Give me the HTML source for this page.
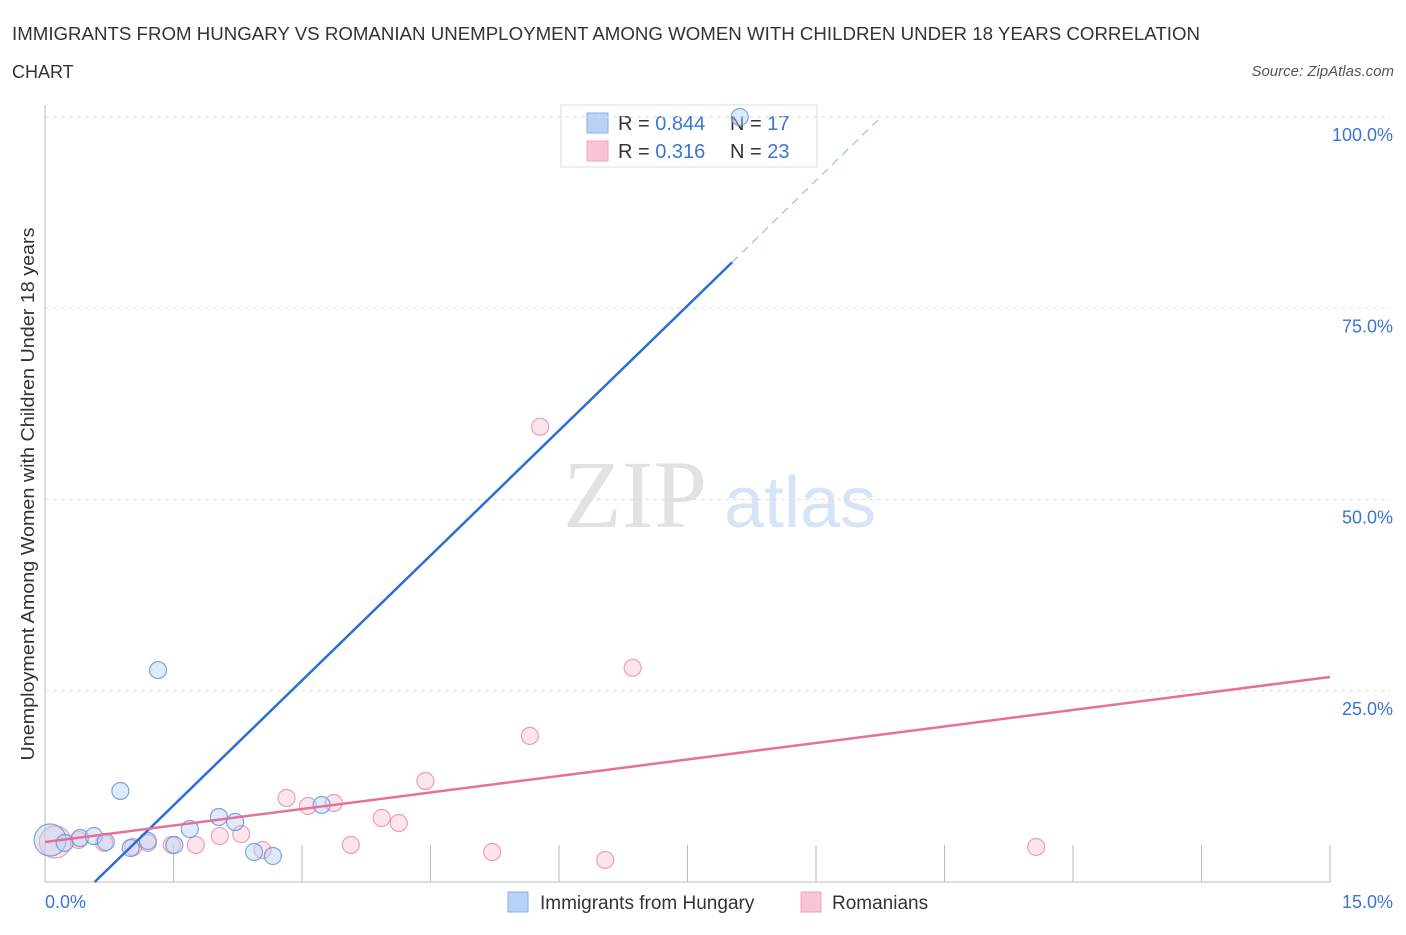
<!DOCTYPE html>
<html><head><meta charset="utf-8"><style>
body{margin:0;background:#fff;font-family:"Liberation Sans",sans-serif;}
</style></head><body>
<svg width="1406" height="930" xmlns="http://www.w3.org/2000/svg" id="svg">
<text x="12" y="40" font-size="18" fill="#333" textLength="1188" lengthAdjust="spacingAndGlyphs">IMMIGRANTS FROM HUNGARY VS ROMANIAN UNEMPLOYMENT AMONG WOMEN WITH CHILDREN UNDER 18 YEARS CORRELATION</text>
<text x="12" y="78" font-size="18" fill="#333">CHART</text>
<text x="1394" y="76" font-size="15" fill="#555" font-style="italic" text-anchor="end">Source: ZipAtlas.com</text>
<text x="635" y="527" font-size="96" fill="#e2e2e2" font-family="Liberation Serif" text-anchor="middle">ZIP</text>
<text x="800" y="527" font-size="72" fill="#d6e4f5" text-anchor="middle">atlas</text>
<text transform="translate(34,494) rotate(-90)" font-size="18" fill="#333" text-anchor="middle" textLength="533" lengthAdjust="spacingAndGlyphs">Unemployment Among Women with Children Under 18 years</text>
<g>
<rect x="561" y="105" width="256" height="62" fill="#fff" stroke="#ddd"/>
<rect x="587" y="113" width="21" height="20" fill="#b7d2f5" stroke="#8ab2e8"/>
<rect x="587" y="141" width="21" height="20" fill="#f9c5d5" stroke="#eea5bd"/>
<text x="618" y="130" font-size="20" fill="#333">R = <tspan fill="#3a76d0">0.844</tspan></text>
<text x="730" y="130" font-size="20" fill="#333">N = <tspan fill="#3a76d0"> 17</tspan></text>
<text x="618" y="158" font-size="20" fill="#333">R = <tspan fill="#3a76d0"> 0.316</tspan></text>
<text x="730" y="158" font-size="20" fill="#333">N = <tspan fill="#3a76d0">23</tspan></text>
</g>
<g id="grid"></g><g id="marks"></g>
<g>
<rect x="508" y="892" width="20" height="20" fill="#b7d2f5" stroke="#8ab2e8"/>
<text x="540" y="909" font-size="19" fill="#333">Immigrants from Hungary</text>
<rect x="801" y="892" width="20" height="20" fill="#f9c5d5" stroke="#eea5bd"/>
<text x="832" y="909" font-size="19" fill="#333">Romanians</text>
</g>
</svg>
<script>
const xTicks=[0,1.5,3,4.5,6,7.5,9,10.5,12,13.5,15];
const yTicks=[25,50,75,100];
const yTickLabels=["25.0%","50.0%","75.0%","100.0%"];
const hungaryX=[0.06,0.23,0.41,0.57,0.71,0.88,1.0,1.2,1.32,1.51,1.69,2.03,2.22,2.44,2.66,3.23,8.11];
const hungaryY=[5.49,5.1,5.75,6.01,5.23,11.9,4.44,5.36,27.7,4.84,6.93,8.5,7.84,3.92,3.4,10.07,100];
const romX=[0.12,0.39,0.69,1.03,1.2,1.48,1.76,2.04,2.29,2.54,2.82,3.07,3.37,3.57,3.93,4.13,4.44,5.22,5.66,5.78,6.54,6.86,11.57];
const romY=[5.23,5.49,5.1,4.58,5.1,4.84,4.84,6.01,6.27,4.18,10.98,9.93,10.33,4.84,8.37,7.71,13.2,3.92,19.1,59.5,2.88,28.0,4.58];
const hungaryLine=[0.58,0,8.02,81,9.76,100];
const romLine=[0,5.23,15,26.8];
const X=v=>45+v/15*1285, Y=v=>882-v/100*765;
const NS="http://www.w3.org/2000/svg";
function mk(p,t,a){const e=document.createElementNS(NS,t);for(const k in a)e.setAttribute(k,a[k]);p.appendChild(e);return e;}
const g=document.getElementById('grid'), m=document.getElementById('marks');
yTicks.forEach((t,i)=>{
 const l=mk(g,'line',{x1:45,x2:1390,y1:Y(t),y2:Y(t),stroke:'#ddd','stroke-dasharray':'4,4'});
 
 
 const tx=mk(g,'text',{x:1393,y:Y(t)+24,'font-size':18,fill:'#3a76d0','text-anchor':'end'});
 tx.textContent=yTickLabels[i];
 
 
});
const ax=mk(g,'line',{x1:45,x2:1330,y1:882,y2:882,stroke:'#bbb'});


const ay=mk(g,'line',{x1:45,x2:45,y1:105,y2:882,stroke:'#bbb'});


xTicks.forEach(t=>{const l=mk(g,'line',{x1:X(t),x2:X(t),y1:845,y2:882,stroke:'#bbb'});
 
 });
const xl0=mk(g,'text',{x:45,y:908,'font-size':18,fill:'#3a76d0'});xl0.textContent='0.0%';


const xl1=mk(g,'text',{x:1393,y:908,'font-size':18,fill:'#3a76d0','text-anchor':'end'});xl1.textContent='15.0%';


function pts(xs,ys,fill,stroke,name,bigIdx){xs.forEach((x,i)=>{
 const c=mk(m,'circle',{cx:X(x),cy:Y(ys[i]),r:i===bigIdx?16:8.5,fill:fill,'fill-opacity':0.45,stroke:stroke,'stroke-opacity':0.8,'stroke-width':1.2});
 
 });}
pts(romX,romY,'#f9c5d5','#e88aa8','romanian-point',0);
pts(hungaryX,hungaryY,'#b7d2f5','#5f90dd','hungary-point',0);
const bl=mk(m,'line',{x1:X(hungaryLine[0]),y1:Y(hungaryLine[1]),x2:X(hungaryLine[2]),y2:Y(hungaryLine[3]),stroke:'#2a6fd6','stroke-width':2.5});


const bd=mk(m,'line',{x1:X(hungaryLine[2]),y1:Y(hungaryLine[3]),x2:X(hungaryLine[4]),y2:Y(hungaryLine[5]),stroke:'#8ab2e8','stroke-width':1,'stroke-dasharray':'8,6'});


const pl=mk(m,'line',{x1:X(romLine[0]),y1:Y(romLine[1]),x2:X(romLine[2]),y2:Y(romLine[3]),stroke:'#e5709a','stroke-width':2.5});


</script>
</body></html>
